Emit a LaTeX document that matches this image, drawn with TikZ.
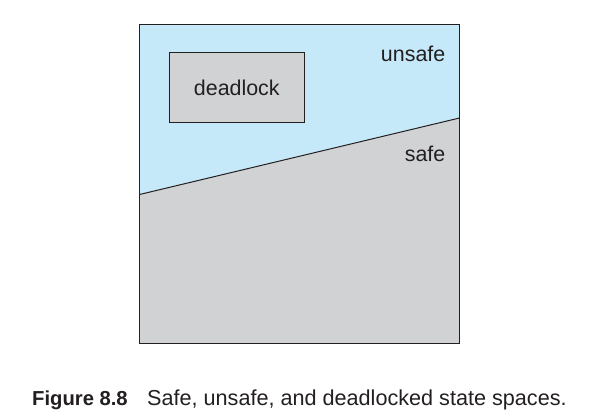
\documentclass[tikz,border=0pt]{standalone}
\usepackage{fontspec}
\setmainfont{Liberation Sans}
\definecolor{unsafeblue}{HTML}{C6E9F9}
\definecolor{safegray}{HTML}{D1D2D4}
\definecolor{edge}{HTML}{231F20}
\begin{document}
\begin{tikzpicture}[x=1bp,y=-1bp,
  region/.style={draw=edge,line width=1bp},
  lbl/.style={font=\fontsize{21.5}{25}\selectfont,text=edge,inner sep=0pt},
  captext/.style={font=\fontsize{21.7}{25}\selectfont,text=edge,inner sep=0pt,anchor=base west},
  capbold/.style={font=\fontsize{20.3}{25}\selectfont\bfseries,text=edge,inner sep=0pt,anchor=base west}]
\useasboundingbox (0,0) rectangle (595,415);
\coordinate (tl) at (139.5,24);
\coordinate (tr) at (459.5,24);
\coordinate (br) at (459.5,343);
\coordinate (bl) at (139.5,343);
\coordinate (ls) at (139.5,194.5);
\coordinate (rs) at (459.5,118);
\fill[unsafeblue] (tl) -- (tr) -- (rs) -- (ls) -- cycle;
\fill[safegray] (ls) -- (rs) -- (br) -- (bl) -- cycle;
\draw[edge,line width=1bp] (ls) -- (rs);
\draw[region] (tl) rectangle (br);
\node[region,fill=safegray,minimum width=135bp,minimum height=69.5bp,inner sep=0pt] (dl) at (236.8,87.5) {};
\node[lbl] (dlt) at (dl.center) {deadlock};
\node[lbl,anchor=east] (unsafe) at (445.5,54) {unsafe};
\node[lbl,anchor=east] (safe) at (445.5,154) {safe};
\node[capbold] (fignum) at (32,405) {Figure 8.8};
\node[captext] (fig) at (147,405) {Safe, unsafe, and deadlocked state spaces.};
\end{tikzpicture}
\end{document}
